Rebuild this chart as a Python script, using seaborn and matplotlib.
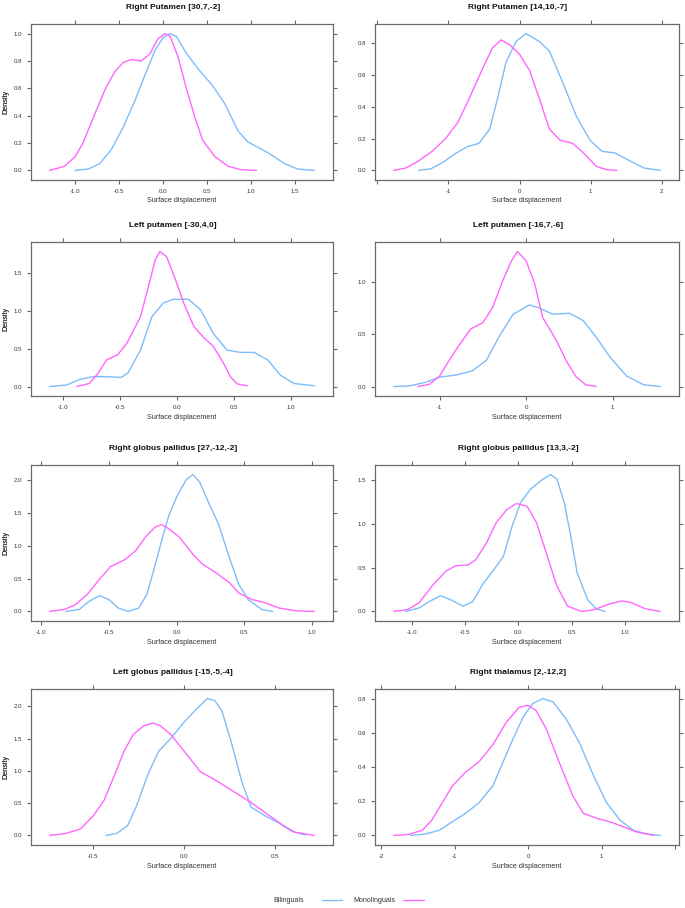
import numpy as np
import pandas as pd
import matplotlib
matplotlib.use("Agg")
import matplotlib.pyplot as plt
from matplotlib.lines import Line2D
import seaborn as sns

# panel titles (row by row, left to right)
titles = ["Right Putamen [30,7,-2]", "Right Putamen [14,10,-7]",
          "Left putamen [-30,4,0]", "Left putamen [-16,7,-6]",
          "Right globus pallidus [27,-12,-2]", "Right globus pallidus [13,3,-2]",
          "Left globus pallidus [-15,-5,-4]", "Right thalamus [2,-12,2]"]

# density curves: Bilinguals (blue) / Monolinguals (magenta)
bil_x1 = [-1.0, -0.85, -0.72, -0.59, -0.45, -0.32, -0.21, -0.09, 0.0, 0.08, 0.15, 0.26, 0.40, 0.55, 0.70, 0.85, 0.96, 1.19, 1.38, 1.53, 1.72]
bil_y1 = [0, 0.01, 0.05, 0.15, 0.32, 0.51, 0.69, 0.88, 0.97, 1.0, 0.98, 0.86, 0.74, 0.63, 0.49, 0.29, 0.21, 0.13, 0.05, 0.01, 0]
mon_x1 = [-1.29, -1.12, -1.0, -0.91, -0.79, -0.66, -0.55, -0.45, -0.36, -0.25, -0.15, -0.06, 0.02, 0.08, 0.17, 0.26, 0.36, 0.45, 0.59, 0.74, 0.89, 1.06]
mon_y1 = [0, 0.03, 0.10, 0.20, 0.39, 0.59, 0.72, 0.79, 0.81, 0.80, 0.85, 0.96, 1.0, 0.98, 0.83, 0.61, 0.39, 0.22, 0.10, 0.03, 0.005, 0]

bil_x2 = [-1.42, -1.25, -1.08, -0.89, -0.73, -0.57, -0.42, -0.31, -0.19, -0.05, 0.09, 0.28, 0.42, 0.61, 0.80, 0.99, 1.16, 1.34, 1.51, 1.75, 1.98]
bil_y2 = [0, 0.01, 0.05, 0.11, 0.15, 0.17, 0.26, 0.45, 0.68, 0.81, 0.86, 0.81, 0.75, 0.55, 0.34, 0.19, 0.12, 0.11, 0.07, 0.015, 0]
mon_x2 = [-1.77, -1.60, -1.42, -1.23, -1.04, -0.87, -0.71, -0.52, -0.38, -0.26, -0.14, 0.0, 0.14, 0.28, 0.42, 0.57, 0.75, 0.90, 1.08, 1.23, 1.37]
mon_y2 = [0, 0.015, 0.06, 0.12, 0.20, 0.30, 0.45, 0.64, 0.77, 0.82, 0.79, 0.73, 0.63, 0.45, 0.26, 0.19, 0.17, 0.11, 0.025, 0.004, 0]

bil_x3 = [-1.12, -0.97, -0.86, -0.74, -0.62, -0.49, -0.43, -0.32, -0.22, -0.12, -0.03, 0.10, 0.21, 0.32, 0.44, 0.56, 0.68, 0.80, 0.91, 1.03, 1.21]
bil_y3 = [0, 0.02, 0.09, 0.13, 0.13, 0.12, 0.18, 0.48, 0.92, 1.10, 1.15, 1.15, 1.01, 0.70, 0.48, 0.45, 0.45, 0.35, 0.15, 0.04, 0.01]
mon_x3 = [-0.88, -0.77, -0.69, -0.62, -0.52, -0.44, -0.32, -0.25, -0.19, -0.15, -0.09, -0.01, 0.06, 0.15, 0.24, 0.32, 0.41, 0.47, 0.53, 0.62]
mon_y3 = [0, 0.04, 0.18, 0.35, 0.42, 0.57, 0.92, 1.32, 1.67, 1.78, 1.71, 1.40, 1.10, 0.79, 0.64, 0.53, 0.31, 0.13, 0.035, 0.01]

bil_x4 = [-1.53, -1.35, -1.16, -1.0, -0.81, -0.62, -0.46, -0.31, -0.15, 0.04, 0.15, 0.31, 0.50, 0.66, 0.81, 0.97, 1.16, 1.36, 1.55]
bil_y4 = [0, 0.006, 0.04, 0.09, 0.11, 0.15, 0.25, 0.48, 0.69, 0.78, 0.75, 0.69, 0.70, 0.63, 0.47, 0.28, 0.10, 0.016, 0]
mon_x4 = [-1.25, -1.12, -1.0, -0.89, -0.77, -0.64, -0.50, -0.39, -0.27, -0.17, -0.10, 0.0, 0.10, 0.19, 0.35, 0.46, 0.58, 0.69, 0.81]
mon_y4 = [0, 0.02, 0.10, 0.25, 0.40, 0.55, 0.61, 0.75, 1.01, 1.20, 1.29, 1.20, 0.98, 0.66, 0.44, 0.25, 0.09, 0.016, 0]

bil_x5 = [-0.82, -0.72, -0.65, -0.57, -0.50, -0.43, -0.36, -0.28, -0.22, -0.17, -0.11, -0.06, 0.0, 0.07, 0.12, 0.17, 0.24, 0.31, 0.39, 0.46, 0.53, 0.63, 0.71]
bil_y5 = [0, 0.03, 0.15, 0.24, 0.18, 0.05, 0.0, 0.05, 0.26, 0.62, 1.08, 1.44, 1.74, 2.0, 2.08, 1.97, 1.64, 1.33, 0.82, 0.41, 0.18, 0.03, 0]
mon_x5 = [-0.94, -0.83, -0.75, -0.66, -0.57, -0.49, -0.38, -0.30, -0.23, -0.16, -0.11, -0.06, 0.02, 0.12, 0.19, 0.29, 0.39, 0.46, 0.56, 0.66, 0.76, 0.88, 1.02]
mon_y5 = [0, 0.03, 0.10, 0.26, 0.49, 0.68, 0.79, 0.93, 1.13, 1.28, 1.32, 1.26, 1.13, 0.87, 0.72, 0.59, 0.44, 0.28, 0.18, 0.13, 0.05, 0.01, 0]

bil_x6 = [-1.06, -0.93, -0.84, -0.73, -0.63, -0.52, -0.43, -0.33, -0.24, -0.14, -0.06, 0.02, 0.11, 0.21, 0.30, 0.36, 0.43, 0.49, 0.55, 0.65, 0.73, 0.81]
bil_y6 = [0, 0.04, 0.11, 0.18, 0.13, 0.06, 0.11, 0.32, 0.46, 0.63, 0.97, 1.24, 1.39, 1.49, 1.56, 1.51, 1.24, 0.86, 0.44, 0.13, 0.03, 0]
mon_x6 = [-1.17, -1.04, -0.93, -0.81, -0.68, -0.59, -0.47, -0.40, -0.30, -0.21, -0.11, -0.02, 0.08, 0.17, 0.27, 0.36, 0.46, 0.59, 0.71, 0.84, 0.97, 1.06, 1.19, 1.33]
mon_y6 = [0, 0.02, 0.10, 0.29, 0.46, 0.52, 0.53, 0.59, 0.78, 1.01, 1.16, 1.23, 1.20, 1.01, 0.63, 0.29, 0.06, 0.0, 0.02, 0.08, 0.12, 0.10, 0.03, 0]

bil_x7 = [-0.43, -0.37, -0.31, -0.26, -0.20, -0.14, -0.07, 0.0, 0.07, 0.13, 0.17, 0.21, 0.26, 0.32, 0.37, 0.45, 0.52, 0.59, 0.67]
bil_y7 = [0, 0.03, 0.15, 0.46, 0.93, 1.30, 1.51, 1.75, 1.96, 2.12, 2.09, 1.93, 1.46, 0.83, 0.44, 0.30, 0.20, 0.07, 0.005]
mon_x7 = [-0.74, -0.65, -0.57, -0.50, -0.44, -0.39, -0.33, -0.28, -0.22, -0.17, -0.13, -0.07, -0.02, 0.04, 0.09, 0.19, 0.28, 0.37, 0.46, 0.54, 0.61, 0.72]
mon_y7 = [0, 0.03, 0.10, 0.30, 0.54, 0.88, 1.30, 1.56, 1.70, 1.74, 1.70, 1.56, 1.38, 1.17, 0.99, 0.83, 0.67, 0.51, 0.33, 0.17, 0.05, 0]

bil_x8 = [-1.60, -1.40, -1.21, -1.03, -0.85, -0.67, -0.48, -0.35, -0.21, -0.07, 0.06, 0.20, 0.34, 0.52, 0.70, 0.89, 1.07, 1.25, 1.43, 1.62, 1.80]
bil_y8 = [0, 0.008, 0.03, 0.08, 0.13, 0.19, 0.29, 0.42, 0.56, 0.69, 0.77, 0.80, 0.78, 0.68, 0.54, 0.35, 0.19, 0.09, 0.03, 0.008, 0]
mon_x8 = [-1.83, -1.63, -1.44, -1.31, -1.17, -1.03, -0.85, -0.67, -0.48, -0.30, -0.12, 0.0, 0.11, 0.25, 0.43, 0.61, 0.75, 0.93, 1.11, 1.30, 1.48, 1.71]
mon_y8 = [0, 0.006, 0.03, 0.09, 0.19, 0.29, 0.37, 0.43, 0.53, 0.66, 0.75, 0.76, 0.73, 0.62, 0.42, 0.23, 0.13, 0.10, 0.08, 0.05, 0.02, 0]

# axis tick values per panel
xticks = [[-1.0, -0.5, 0.0, 0.5, 1.0, 1.5], [-2, -1, 0, 1, 2], [-1.0, -0.5, 0.0, 0.5, 1.0], [-1, 0, 1],
          [-1.0, -0.5, 0.0, 0.5, 1.0], [-1.0, -0.5, 0.0, 0.5, 1.0], [-0.5, 0.0, 0.5], [-2, -1, 0, 1, 2]]
xticklabels = [["-1.0", "-0.5", "0.0", "0.5", "1.0", "1.5"], ["", "-1", "0", "1", "2"],
               ["-1.0", "-0.5", "0.0", "0.5", "1.0"], ["-1", "0", "1"],
               ["-1.0", "-0.5", "0.0", "0.5", "1.0"], ["-1.0", "-0.5", "0.0", "0.5", "1.0"],
               ["-0.5", "0.0", "0.5"], ["-2", "-1", "0", "1", ""]]
yticks = [[0.0, 0.2, 0.4, 0.6, 0.8, 1.0], [0.0, 0.2, 0.4, 0.6, 0.8], [0.0, 0.5, 1.0, 1.5], [0.0, 0.5, 1.0],
          [0.0, 0.5, 1.0, 1.5, 2.0], [0.0, 0.5, 1.0, 1.5], [0.0, 0.5, 1.0, 1.5, 2.0], [0.0, 0.2, 0.4, 0.6, 0.8]]

curves = [(bil_x1, bil_y1, mon_x1, mon_y1), (bil_x2, bil_y2, mon_x2, mon_y2),
          (bil_x3, bil_y3, mon_x3, mon_y3), (bil_x4, bil_y4, mon_x4, mon_y4),
          (bil_x5, bil_y5, mon_x5, mon_y5), (bil_x6, bil_y6, mon_x6, mon_y6),
          (bil_x7, bil_y7, mon_x7, mon_y7), (bil_x8, bil_y8, mon_x8, mon_y8)]

groups = ["Bilinguals", "Monolinguals"]
palette = {"Bilinguals": "#7dbdfa", "Monolinguals": "#ff66ff"}

sns.set_theme(style="white")
plt.rcParams['font.family'] = ['Liberation Sans', 'DejaVu Sans']

W, H = 685, 908
fig = plt.figure(figsize=(W / 100, H / 100), dpi=100)

# panel boxes in pixels: (left, right) and (top, bottom)
cols = [(31, 333), (375, 679)]
rows = [(24, 180), (242, 396), (465, 621), (689, 845)]

axis_col = "#6a6a6a"
for i, (bx, by, mx, my) in enumerate(curves):
    r, c = divmod(i, 2)
    l, rr = cols[c]
    t, b = rows[r]
    ax = fig.add_axes([l / W, 1 - b / H, (rr - l) / W, (b - t) / H])

    df = pd.concat([
        pd.DataFrame({"x": bx, "density": by, "group": "Bilinguals"}),
        pd.DataFrame({"x": mx, "density": my, "group": "Monolinguals"}),
    ])
    sns.lineplot(data=df, x="x", y="density", hue="group", hue_order=groups,
                 palette=palette, sort=False, estimator=None, lw=1.0,
                 solid_joinstyle="round", legend=False, ax=ax)

    # lattice-style 7% padding
    xmin, xmax = min(min(bx), min(mx)), max(max(bx), max(mx))
    ymax = max(max(by), max(my))
    pad = 0.07 * (xmax - xmin)
    ax.set_xlim(xmin - pad, xmax + pad)
    ax.set_ylim(-0.07 * ymax, 1.07 * ymax)

    ax.set_xticks(xticks[i])
    ax.set_xticklabels(xticklabels[i])
    ax.set_yticks(yticks[i])
    ax.set_yticklabels([f"{v:.1f}" for v in yticks[i]])
    ax.tick_params(axis="both", which="both", direction="out", length=3.2, width=0.8,
                   color=axis_col, labelsize=4.4, labelcolor="#333333",
                   top=True, right=True, bottom=True, left=True, pad=3)
    for s in ax.spines.values():
        s.set_color(axis_col)
        s.set_linewidth(0.9)

    ax.set_title(titles[i], fontsize=6.0, fontweight="bold", x=0.47, pad=11, color="#111111")
    ax.set_xlabel("Surface displacement", fontsize=5.2, color="#333333")
    ax.set_ylabel("Density", fontsize=5.2, color="#333333")
    ax.xaxis.set_label_coords(0.5, -21 / (b - t))
    ax.yaxis.set_label_coords(-(l - 6) / (rr - l), 0.5)
    ax.xaxis.label.set_va("center")
    ax.yaxis.label.set_va("center")

# key at the bottom: labels left-aligned in equal-width columns, line after each
ky = 1 - 900 / H
for gx, lx0, lx1, g in [(273, 322, 342, "Bilinguals"), (353, 403, 424, "Monolinguals")]:
    fig.text(gx / W, ky, g, fontsize=5.0, color="#333333", ha="left", va="center")
    fig.add_artist(Line2D([lx0 / W, lx1 / W], [ky, ky], color=palette[g], lw=1.0,
                          transform=fig.transFigure))

fig.savefig("out.png", dpi=100)
